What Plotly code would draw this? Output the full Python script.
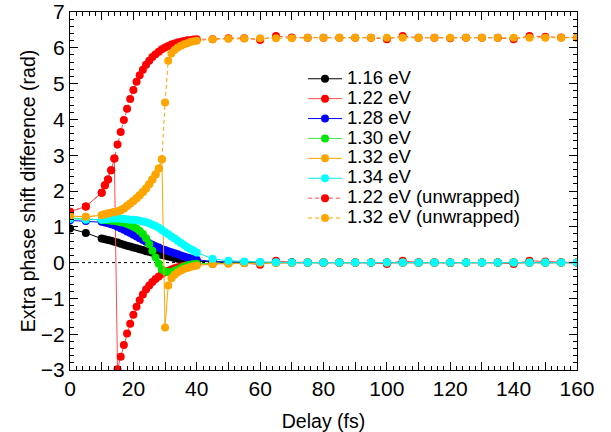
import plotly.graph_objects as go

# Delay grid (fs)
delay = [0, 5] + list(range(10, 41)) + list(range(45, 161, 5))

tail_zero = [0.0] * 22  # 55..160

e116 = [0.95, 0.83,
        0.67, 0.65, 0.63, 0.61, 0.58, 0.56, 0.53, 0.50, 0.47, 0.45,
        0.42, 0.40, 0.37, 0.35, 0.32, 0.30, 0.28, 0.25, 0.23, 0.21,
        0.19, 0.17, 0.15, 0.13, 0.11, 0.10, 0.08, 0.07, 0.06, 0.05, 0.04,
        0.02, 0.01] + tail_zero

e122 = [1.42, 1.57,
        1.95, 2.16, 2.32, 2.58, 2.91, -2.98, -2.63, -2.30, -1.98, -1.71,
        -1.46, -1.23, -1.05, -0.89, -0.75, -0.64, -0.54, -0.46, -0.39, -0.32,
        -0.27, -0.23, -0.19, -0.16, -0.13, -0.11, -0.09, -0.07, -0.06, -0.05, -0.04,
        -0.04, -0.01, -0.01, -0.06, 0.05, 0.01, 0.0, 0.0, 0.0, 0.0, 0.0,
        -0.04, 0.05, 0.0, 0.0, -0.01, 0.0, 0.0, 0.0, -0.04, 0.05, 0.03, 0.01, 0.0]

e128 = [1.18, 1.16,
        1.14, 1.12, 1.10, 1.07, 1.04, 1.00, 0.96, 0.92, 0.87, 0.83,
        0.78, 0.73, 0.68, 0.63, 0.58, 0.54, 0.50, 0.46, 0.42, 0.38,
        0.35, 0.32, 0.29, 0.26, 0.23, 0.20, 0.17, 0.14, 0.12, 0.10, 0.08,
        0.03, 0.01] + tail_zero

e130 = [1.25, 1.22,
        1.20, 1.19, 1.18, 1.17, 1.16, 1.15, 1.13, 1.11, 1.08, 1.04,
        1.00, 0.95, 0.88, 0.80, 0.68, 0.52, 0.33, 0.14, -0.03, -0.19,
        -0.25, -0.27, -0.26, -0.23, -0.19, -0.15, -0.11, -0.08, -0.06, -0.04, -0.03,
        -0.02, -0.01] + tail_zero

e132 = [1.30, 1.28,
        1.32, 1.35, 1.37, 1.39, 1.41, 1.43, 1.46, 1.51, 1.58, 1.65,
        1.72, 1.80, 1.88, 1.97, 2.07, 2.19, 2.32, 2.46, 2.63, 2.89,
        -1.81, -0.64, -0.44, -0.34, -0.27, -0.22, -0.18, -0.15, -0.12, -0.10, -0.08,
        -0.04, -0.03, -0.02, -0.01, -0.01, -0.01, 0.0, 0.0, 0.0, 0.0, 0.0,
        0.0, 0.0, 0.0, 0.0, 0.0, 0.0, 0.0, 0.0, 0.0, 0.0, 0.0, 0.0, 0.0]

e134 = [1.22, 1.20,
        1.20, 1.21, 1.22, 1.23, 1.23, 1.23, 1.23, 1.22, 1.21, 1.20,
        1.20, 1.19, 1.17, 1.15, 1.13, 1.10, 1.06, 1.02, 0.97, 0.91,
        0.85, 0.79, 0.73, 0.67, 0.61, 0.55, 0.49, 0.43, 0.38, 0.33, 0.28,
        0.11, 0.05, 0.03, 0.02, 0.01, 0.0, 0.0, 0.0, 0.0, 0.0, 0.0,
        0.0, 0.0, 0.0, 0.0, 0.0, 0.0, 0.0, 0.0, 0.0, 0.0, 0.0, 0.0, 0.0]

e122_unwrapped = [1.42, 1.57,
        1.95, 2.16, 2.32, 2.58, 2.91, 3.30, 3.65, 3.98, 4.30, 4.57,
        4.82, 5.05, 5.23, 5.39, 5.53, 5.64, 5.74, 5.82, 5.89, 5.96,
        6.01, 6.05, 6.09, 6.12, 6.15, 6.17, 6.19, 6.21, 6.22, 6.23, 6.24,
        6.24, 6.27, 6.27, 6.22, 6.33, 6.29, 6.28, 6.28, 6.28, 6.28, 6.28,
        6.24, 6.33, 6.28, 6.28, 6.27, 6.28, 6.28, 6.28, 6.24, 6.33, 6.31, 6.29, 6.28]

e132_unwrapped = [1.30, 1.28,
        1.32, 1.35, 1.37, 1.39, 1.41, 1.43, 1.46, 1.51, 1.58, 1.65,
        1.72, 1.80, 1.88, 1.97, 2.07, 2.19, 2.32, 2.46, 2.63, 2.89,
        4.47, 5.64, 5.84, 5.94, 6.01, 6.06, 6.10, 6.13, 6.16, 6.18, 6.20,
        6.24, 6.25, 6.26, 6.27, 6.27, 6.27, 6.28, 6.28, 6.28, 6.28, 6.28,
        6.28, 6.28, 6.28, 6.28, 6.28, 6.28, 6.28, 6.28, 6.28, 6.28, 6.28, 6.28, 6.28]

series = [
    ("1.16 eV", e116, "#000000", "#000000", "solid"),
    ("1.22 eV", e122, "#ff0000", "#ff4a4a", "solid"),
    ("1.28 eV", e128, "#0000ff", "#0000ff", "solid"),
    ("1.30 eV", e130, "#00e600", "#40e840", "solid"),
    ("1.32 eV", e132, "#ffa500", "#ffa500", "solid"),
    ("1.34 eV", e134, "#00ffff", "#00e8e8", "solid"),
    ("1.22 eV (unwrapped)", e122_unwrapped, "#ff0000", "#ff4a4a", "4px,3px"),
    ("1.32 eV (unwrapped)", e132_unwrapped, "#ffa500", "#ffa500", "4px,3px"),
]

x_tickvals = list(range(0, 161, 10))
x_ticktext = [str(v) if v % 20 == 0 else "" for v in x_tickvals]

FONT = "Liberation Sans, Arial, sans-serif"

fig = go.Figure()
for name, vals, mcol, lcol, dash in series:
    fig.add_trace(go.Scatter(
        x=delay, y=vals, mode="lines+markers",
        name='<span style="font-size:18.5px">' + name + '</span>',
        line=dict(color=lcol, width=1, dash=dash),
        marker=dict(color=mcol, size=8, line=dict(width=0)),
    ))

fig.add_shape(type="line", xref="x", yref="y", x0=0, x1=160, y0=0, y1=0,
              line=dict(color="black", width=1, dash="dot"), layer="below")

axis_common = dict(
    showgrid=False, zeroline=False, showline=True, linecolor="black", linewidth=1,
    mirror="allticks", ticks="inside", tickcolor="black", tickwidth=1,
    tickfont=dict(family=FONT, size=21, color="black"),
)

fig.update_xaxes(
    range=[0, 160], tickmode="array", tickvals=x_tickvals, ticktext=x_ticktext,
    ticklen=8, automargin=False,
    minor=dict(dtick=2, ticklen=4, ticks="inside", tickcolor="black", showgrid=False),
    title=dict(text="Delay (fs)", font=dict(family=FONT, size=19.5, color="black")),
    **axis_common,
)
fig.update_yaxes(
    range=[-3, 7], dtick=1, ticklen=8, automargin="left",
    minor=dict(dtick=0.2, ticklen=4, ticks="inside", tickcolor="black", showgrid=False),
    title=dict(text="Extra phase shift difference (rad)", font=dict(family=FONT, size=19.5, color="black"), standoff=0),
    **axis_common,
)

fig.update_layout(
    width=611, height=432,
    margin=dict(l=70, r=34, t=12, b=62),
    paper_bgcolor="white", plot_bgcolor="white",
    showlegend=True,
    legend=dict(x=0.4596, y=0.8553, xanchor="left", yanchor="top",
                bgcolor="rgba(0,0,0,0)", borderwidth=0,
                font=dict(family=FONT, size=13, color="black"),
                itemwidth=34, tracegroupgap=0),
)

fig.write_html("out.html", config={"displayModeBar": False},
               post_script="document.body.style.margin='0';")
